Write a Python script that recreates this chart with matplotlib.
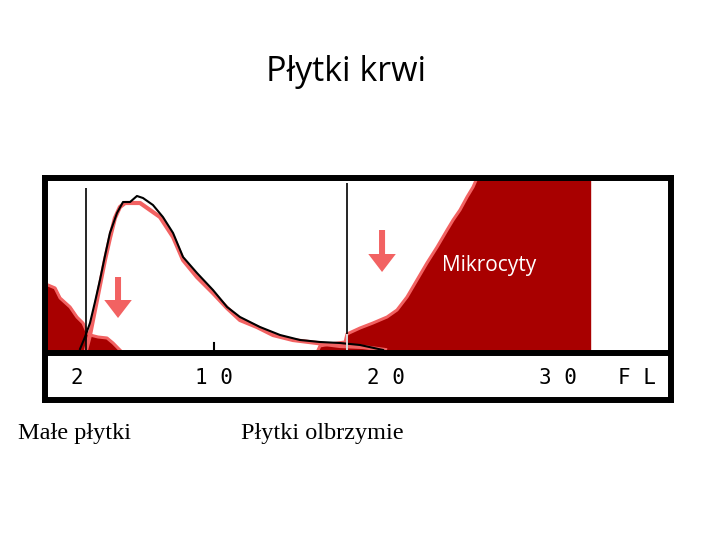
import matplotlib.pyplot as plt

# histogram data (x in fL, y in counts / arbitrary units)
black_x = [2.21, 2.50, 2.79, 3.08, 3.37, 3.66, 3.95, 4.36, 4.71, 5.12, 5.52, 5.87, 6.45, 7.03,
           7.62, 8.20, 9.01, 9.94, 10.76, 11.51, 12.67, 13.84, 15.00, 16.16, 17.33, 18.49, 19.83]
black_y = [1, 13, 27, 48, 70, 94, 117, 137, 148, 148, 154, 152, 145, 133,
           117, 93, 77, 60, 43, 33, 23, 15, 10, 8, 7, 5, 0]

pink_x = [2.56, 2.79, 3.08, 3.37, 3.66, 3.95, 4.24, 4.53, 4.83, 5.70, 6.28, 6.86, 7.62,
          8.20, 9.01, 9.94, 10.76, 11.51, 12.50, 13.43, 14.59, 15.99, 17.33, 18.66, 19.94]
pink_y = [0, 15, 40, 65, 90, 112, 132, 143, 147, 147, 140, 133, 113,
          90, 73, 57, 42, 30, 23, 15, 10, 7, 4, 3, 0]

small_x = [0.0, 0.35, 0.76, 1.05, 1.63, 2.03, 2.38, 2.62, 2.79, 3.26, 3.78, 4.13, 4.53]
small_y = [65, 65, 62, 52, 43, 33, 27, 18, 15, 13, 12, 7, 0]

micro_x = [16.05, 16.16, 16.74, 17.62, 17.73, 18.49, 19.24, 20.06, 20.64, 21.22, 21.80, 22.38,
           22.97, 23.55, 23.90, 24.30, 24.71, 25.06, 25.29, 31.86, 31.86]
micro_y = [0, 4, 6, 8, 16, 22, 27, 33, 40, 53, 70, 87,
           103, 120, 130, 140, 153, 163, 172, 172, 0]

giant_x = [16.05, 16.74, 17.62, 18.49, 19.83]
giant_y = [0, 5, 6, 4, 0]

gates = [2.56, 17.73]
gate_tops = [162, 167]
arrow_x = [4.42, 19.77]
arrow_top = [73, 120]
arrow_tip = [32, 78]

tick_vals = [2, 10, 20, 30]
tick_labels = ['2', '1 0', '2 0', '3 0']

dark_red = '#a80000'
salmon = '#f26262'

fig = plt.figure(figsize=(7.2, 5.4), dpi=100)
ax = fig.add_axes([45/720, 1-400/540, (671-45)/720, (400-178)/540])
ax.set_xlim((45-42)/17.2, (671-42)/17.2)
ax.set_ylim(-50, 172)

# small tick marks on the scale
for t in [10, 20]:
    ax.plot([t, t], [0, 7], color='black', lw=1.5, zorder=1)

ax.fill_between(micro_x, micro_y, color=dark_red, zorder=2)
ax.plot(micro_x[:19], micro_y[:19], color=salmon, lw=2.2, zorder=3)
ax.fill_between(giant_x, giant_y, color=dark_red, zorder=2)

ax.fill_between(small_x, small_y, color=dark_red, zorder=2)
ax.plot(small_x, small_y, color=salmon, lw=2.2, zorder=3)

ax.plot(pink_x, pink_y, color=salmon, lw=3, zorder=4)
ax.plot(black_x, black_y, color='black', lw=1.5, zorder=5)

ax.vlines(gates, 0, gate_tops, color='black', lw=1.2, zorder=6)
ax.vlines(gates[1], 0, 16, color='white', lw=1.2, zorder=6)

for xa, ya, yb in zip(arrow_x, arrow_top, arrow_tip):
    ax.arrow(xa, ya, 0, yb - ya, width=0.35, head_width=1.6, head_length=18,
             length_includes_head=True, color=salmon, lw=0, zorder=7)

ax.axhline(-3, color='black', lw=4.3, zorder=8)

for v, lab in zip(tick_vals, tick_labels):
    ax.text(v, -28, lab, ha='center', va='center', fontsize=15,
            family='DejaVu Sans Mono', color='black')
ax.text(34.6, -28, 'F L', ha='center', va='center', fontsize=15,
        family='DejaVu Sans Mono', color='black')

ax.text(26.0, 85, 'Mikrocyty', ha='center', va='center', fontsize=15,
        family='Open Sans', color='white', zorder=9)

ax.set_xticks([])
ax.set_yticks([])
for s in ax.spines.values():
    s.set_linewidth(4.3)
    s.set_zorder(10)

fig.text(346/720, 1-72/540, 'Płytki krwi', ha='center', va='center',
         fontsize=24.5, family='Open Sans')
fig.text(18/720, 1-434/540, 'Małe płytki', ha='left', va='center',
         fontsize=17.5, family='Liberation Serif')
fig.text(241/720, 1-434/540, 'Płytki olbrzymie', ha='left', va='center',
         fontsize=17.5, family='Liberation Serif')

fig.savefig('out.png', dpi=100)
